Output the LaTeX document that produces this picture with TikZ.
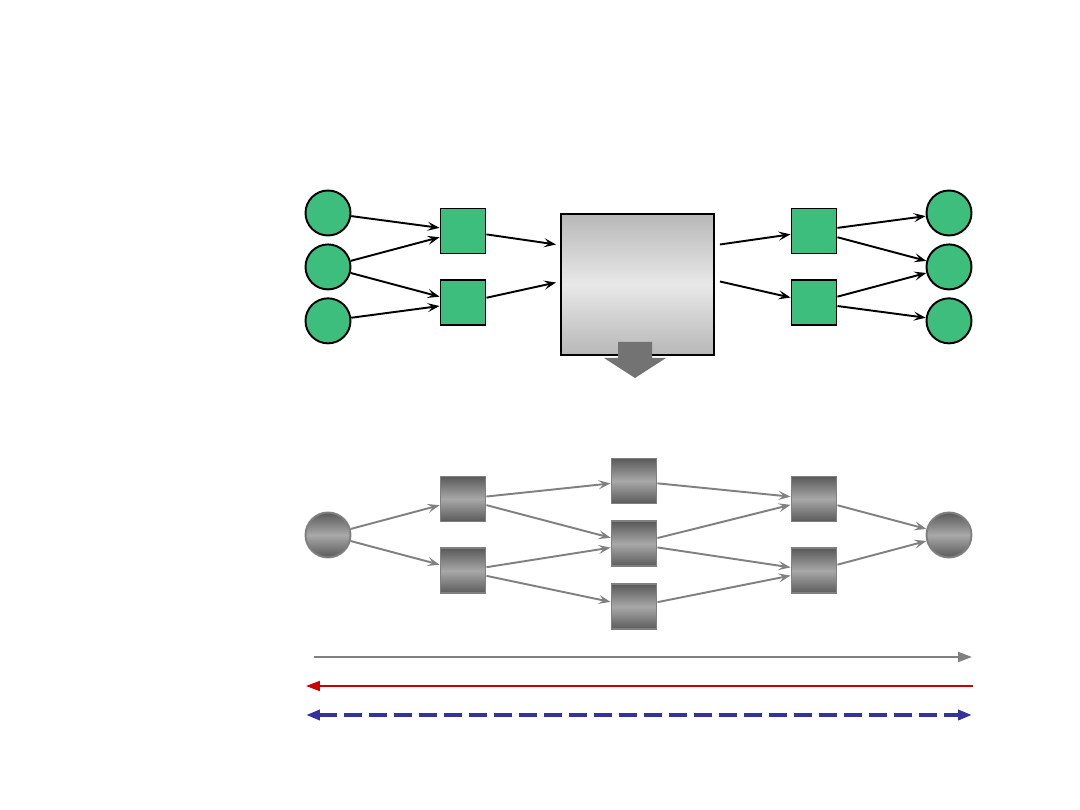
\documentclass[tikz,border=0pt]{standalone}
\usepackage{tikz}
\usetikzlibrary{arrows.meta,positioning,calc}

\definecolor{placegreen}{RGB}{62,190,124}
\definecolor{legblue}{RGB}{51,51,153}
\definecolor{legred}{RGB}{204,0,0}
\definecolor{arrgray}{RGB}{128,128,128}
\definecolor{bigarrow}{RGB}{115,115,115}
\definecolor{shdark}{RGB}{90,90,90}
\definecolor{shlight}{RGB}{168,168,168}

\begin{document}
\begin{tikzpicture}[
  x=0.02cm, y=-0.02cm,
  >={Stealth[length=2.4mm,width=1.8mm,inset=1mm]},
  line width=1.1pt,
  place/.style={circle, draw, fill=placegreen, minimum size=0.9cm, inner sep=0pt},
  trans/.style={rectangle, draw, fill=placegreen, minimum size=0.9cm, inner sep=0pt},
  gplace/.style={circle, draw=arrgray, top color=shdark, bottom color=shdark, middle color=shlight, minimum size=0.9cm, inner sep=0pt},
  gtrans/.style={rectangle, draw=arrgray, top color=shdark, bottom color=shdark, middle color=shlight, minimum size=0.9cm, inner sep=0pt},
  netbox/.style={rectangle, draw, top color=black!28, bottom color=black!28, middle color=black!9, minimum width=3.06cm, minimum height=2.82cm},
  garr/.style={->, draw=arrgray, fill=arrgray},
  legtip/.style={arrows={-Triangle[length=2.8mm,width=2mm]}}
]
\useasboundingbox (0,0) rectangle (1080,810);

% upper net
\node[place] (p1) at (328,213) {};
\node[place, below=0.14cm of p1] (p2) {};
\node[place, below=0.14cm of p2] (p3) {};
\node[trans] (t1) at (463,231) {};
\node[trans, below=0.50cm of t1] (t2) {};
\node[netbox] (net) at (637.5,284.5) {};
\node[trans] (u1) at (814,231) {};
\node[trans, below=0.50cm of u1] (u2) {};
\node[place] (q1) at (949,213) {};
\node[place, below=0.14cm of q1] (q2) {};
\node[place, below=0.14cm of q2] (q3) {};

\draw[->] (p1) -- (t1);
\draw[->] (p2) -- (t1);
\draw[->] (p2) -- (t2);
\draw[->] (p3) -- (t2);
\draw[->] (t1) -- ($(net.west)+(-4,-40)$);
\draw[->] (t2) -- ($(net.west)+(-4,-2)$);
\draw[->] ($(net.east)+(5,-40)$) -- (u1);
\draw[->] ($(net.east)+(5,-3)$) -- (u2);
\draw[->] (u1) -- (q1);
\draw[->] (u1) -- (q2);
\draw[->] (u2) -- (q2);
\draw[->] (u2) -- (q3);

% refinement arrow
\fill[bigarrow] (618,342) -- (652,342) -- (652,358) -- (666,358) -- (635,378)
  -- (604,358) -- (618,358) -- cycle;

% lower net
\node[gplace] (c) at (328,535) {};
\node[gtrans] (a1) at (463,499) {};
\node[gtrans, below=0.50cm of a1] (a2) {};
\node[gtrans] (b1) at (634,481) {};
\node[gtrans, below=0.32cm of b1] (b2) {};
\node[gtrans, below=0.32cm of b2] (b3) {};
\node[gtrans] (d1) at (814,499) {};
\node[gtrans, below=0.50cm of d1] (d2) {};
\node[gplace] (e) at (949,535) {};

\draw[garr] (c) -- (a1);
\draw[garr] (c) -- (a2);
\draw[garr] (a1) -- (b1);
\draw[garr] (a1) -- (b2);
\draw[garr] (a2) -- (b2);
\draw[garr] (a2) -- (b3);
\draw[garr] (b1) -- (d1);
\draw[garr] (b2) -- (d1);
\draw[garr] (b2) -- (d2);
\draw[garr] (b3) -- (d2);
\draw[garr] (d1) -- (e);
\draw[garr] (d2) -- (e);

% legend lines
\coordinate (gl) at (314,657);
\coordinate (gr) at (972,657);
\coordinate (rl) at (306,686);
\coordinate (rr) at (973,686);
\coordinate (bl) at (306,715);
\coordinate (br) at (972,715);
\draw[legtip, arrgray] (gl) -- (gr);
\draw[legtip, legred] (rr) -- (rl);
\draw[legblue, line width=2pt, dash pattern=on 0.36cm off 0.14cm,
  arrows={Triangle[length=2.8mm,width=2mm]-Triangle[length=2.8mm,width=2mm]}] (bl) -- (br);
\end{tikzpicture}
\end{document}
